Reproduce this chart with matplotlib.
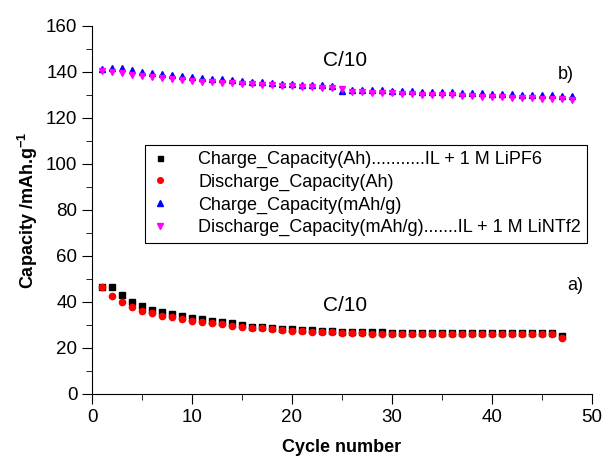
import matplotlib
matplotlib.use('Agg')
import matplotlib.pyplot as plt
from matplotlib.ticker import MultipleLocator

plt.rcParams['font.family'] = ['Liberation Sans', 'DejaVu Sans']
plt.rcParams['mathtext.fontset'] = 'custom'
plt.rcParams['mathtext.rm'] = 'Liberation Sans'
plt.rcParams['mathtext.bf'] = 'Liberation Sans:bold'

# LiPF6 electrolyte, cycles 1-47
cycles_a = list(range(1, 48))
charge_ah = [46.4, 46.4, 42.9, 39.9, 38.3, 36.5, 35.5, 34.6, 33.9, 33.0,
             32.5, 31.9, 31.4, 30.9, 30.0, 29.3, 29.0, 28.6, 28.4, 28.1,
             27.9, 27.7, 27.4, 27.2, 27.1, 27.0, 26.9, 26.8, 26.8, 26.7,
             26.7, 26.7, 26.7, 26.7, 26.7, 26.7, 26.7, 26.7, 26.7, 26.7,
             26.7, 26.7, 26.7, 26.7, 26.7, 26.6, 25.4]
discharge_ah = [46.4, 42.6, 39.9, 37.8, 36.2, 35.1, 34.1, 33.3, 32.6, 31.9,
                31.3, 30.7, 30.3, 29.6, 29.1, 28.8, 28.6, 28.3, 27.8, 27.5,
                27.2, 27.1, 27.0, 26.8, 26.7, 26.5, 26.4, 26.3, 26.3, 26.2,
                26.2, 26.2, 26.2, 26.2, 26.2, 26.1, 26.1, 26.1, 26.1, 26.1,
                26.1, 26.1, 26.1, 26.0, 26.0, 26.0, 24.4]

# LiNTf2 electrolyte, cycles 1-48
cycles_b = list(range(1, 49))
charge_mahg = [141.2, 141.9, 141.6, 140.9, 140.1, 139.7, 139.1, 138.6, 138.3, 137.8,
               137.5, 137.1, 136.8, 136.4, 136.1, 135.8, 135.5, 135.2, 134.9, 134.8,
               134.5, 134.3, 134.3, 134.1, 131.7, 132.2, 132.2, 132.1, 132.1, 131.9,
               131.8, 131.7, 131.5, 131.4, 131.2, 131.1, 131.0, 130.8, 130.7, 130.6,
               130.4, 130.3, 130.2, 130.1, 129.9, 129.8, 129.7, 129.6]
discharge_mahg = [140.6, 140.0, 139.4, 138.8, 138.3, 137.8, 137.3, 136.8, 136.5, 136.1,
                  135.8, 135.5, 135.4, 135.1, 134.8, 134.6, 134.3, 134.2, 133.9, 133.7,
                  133.6, 133.4, 133.1, 133.0, 132.8, 131.4, 131.2, 131.0, 130.9, 130.7,
                  130.5, 130.4, 130.2, 130.0, 129.9, 129.8, 129.6, 129.5, 129.3, 129.2,
                  129.0, 128.9, 128.7, 128.6, 128.4, 128.3, 128.1, 127.9]

fig = plt.figure(figsize=(6.03, 4.58), dpi=100)
ax = fig.add_axes([92 / 603, 64 / 458, 500 / 603, 368 / 458])

ax.plot(cycles_a, charge_ah, 's', color='black', ms=4, ls='none',
        label='Charge_Capacity(Ah)...........IL + 1 M LiPF6')
ax.plot(cycles_a, discharge_ah, 'o', color='red', ms=4.5, ls='none',
        label='Discharge_Capacity(Ah)')
ax.plot(cycles_b, charge_mahg, '^', color='blue', ms=4.5, ls='none',
        label='Charge_Capacity(mAh/g)')
ax.plot(cycles_b, discharge_mahg, 'v', color='magenta', ms=4.5, ls='none',
        label='Discharge_Capacity(mAh/g).......IL + 1 M LiNTf2')

ax.set_xlim(0, 50)
ax.set_ylim(0, 160)
ax.spines['top'].set_visible(False)
ax.spines['right'].set_visible(False)
ax.xaxis.set_major_locator(MultipleLocator(10))
ax.xaxis.set_minor_locator(MultipleLocator(5))
ax.yaxis.set_major_locator(MultipleLocator(20))
ax.yaxis.set_minor_locator(MultipleLocator(10))
ax.tick_params(which='major', direction='out', length=7, labelsize=13.5)
ax.tick_params(which='minor', direction='out', length=4)

ax.set_xlabel('Cycle number', fontsize=13, fontweight='bold', labelpad=10)
ax.set_ylabel(r'Capacity /mAh.g$^{\mathbf{-1}}$', fontsize=13, fontweight='bold')

ax.text(25.3, 145, 'C/10', fontsize=15, ha='center', va='center')
ax.text(25.3, 38.5, 'C/10', fontsize=15, ha='center', va='center')
ax.text(48.3, 47, 'a)', fontsize=13, ha='center', va='center')
ax.text(47.4, 139, 'b)', fontsize=13, ha='center', va='center')

leg = ax.legend(loc='upper left', bbox_to_anchor=(0.106, 0.677), borderaxespad=0,
                fontsize=13, fancybox=False, framealpha=1, edgecolor='black',
                handlelength=1.0, handletextpad=1.6, labelspacing=0.3,
                borderpad=0.35, markerscale=0.9)
leg.get_frame().set_linewidth(0.8)

fig.savefig('out.png', dpi=100)
